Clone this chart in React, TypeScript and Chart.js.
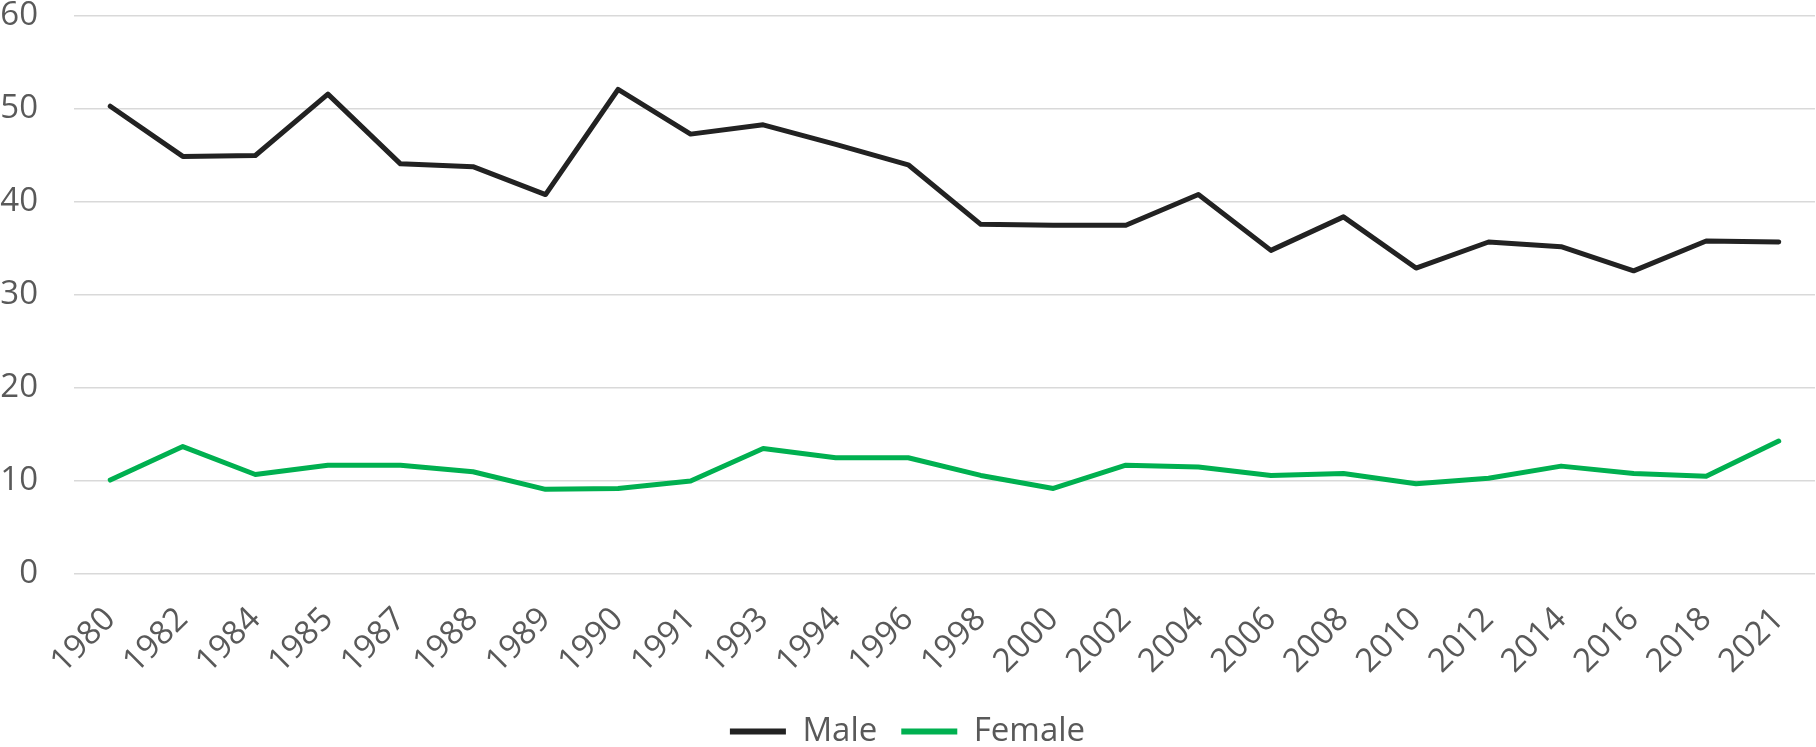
import React, { useEffect, useRef } from "react";
import { Chart, registerables } from "chart.js";

Chart.register(...registerables);

const years = ["1980","1982","1984","1985","1987","1988","1989","1990","1991","1993","1994","1996","1998","2000","2002","2004","2006","2008","2010","2012","2014","2016","2018","2021"];
const maleValues = [50.3,44.9,45.0,51.6,44.1,43.8,40.8,52.1,47.3,48.3,46.2,44.0,37.6,37.5,37.5,40.8,34.8,38.4,32.9,35.7,35.2,32.6,35.8,35.7];
const femaleValues = [10.1,13.7,10.7,11.7,11.7,11.0,9.1,9.2,10.0,13.5,12.5,12.5,10.6,9.2,11.7,11.5,10.6,10.8,9.7,10.3,11.6,10.8,10.5,14.3];
const yTicks = [0, 10, 20, 30, 40, 50, 60];

const FONT = "'Open Sans', sans-serif";
const TEXT = "#595959";
const SIZE = 33;

const zeroPad = (s: any) => {
  s.paddingLeft = 0;
  s.paddingRight = 0;
  s.paddingTop = 0;
  s.paddingBottom = 0;
};

export default function App() {
  const ref = useRef<HTMLCanvasElement | null>(null);
  useEffect(() => {
    if (!ref.current) return;
    const chart = new Chart(ref.current, {
      type: "line",
      data: {
        labels: years,
        datasets: [
          { label: "Male", data: maleValues, borderColor: "#222222", backgroundColor: "#222222", borderWidth: 5, pointRadius: 0, tension: 0, borderCapStyle: "round", borderJoinStyle: "round" },
          { label: "Female", data: femaleValues, borderColor: "#00B050", backgroundColor: "#00B050", borderWidth: 5, pointRadius: 0, tension: 0, borderCapStyle: "round", borderJoinStyle: "round" },
        ],
      },
      options: {
        animation: false,
        responsive: false,
        maintainAspectRatio: false,
        layout: { padding: { left: 0, right: 1, top: 16, bottom: -11 } },
        plugins: {
          tooltip: { enabled: false },
          legend: {
            position: "bottom",
            labels: {
              font: { family: FONT, size: SIZE },
              color: TEXT,
              boxWidth: 56,
              boxHeight: 6,
              padding: 24,
              generateLabels: (c: any) =>
                c.data.datasets.map((d: any, i: number) => ({
                  text: d.label,
                  fillStyle: d.borderColor,
                  strokeStyle: d.borderColor,
                  lineWidth: 0,
                  fontColor: TEXT,
                  datasetIndex: i,
                  hidden: false,
                })),
            },
          },
        },
        scales: {
          x: {
            offset: true,
            grid: { display: false, drawTicks: false },
            border: { display: false },
            ticks: { font: { family: FONT, size: SIZE }, color: TEXT, minRotation: 45, maxRotation: 45, padding: 26, autoSkip: false },
            afterFit: (s: any) => { s.height = 117; zeroPad(s); },
          },
          y: {
            min: 0,
            max: 60,
            afterBuildTicks: (axis: any) => { axis.ticks = yTicks.map((v) => ({ value: v })); },
            grid: { color: "#D9D9D9", lineWidth: 1.5, drawTicks: false },
            border: { display: false },
            ticks: { font: { family: FONT, size: SIZE }, color: TEXT, padding: 36 },
            afterFit: (s: any) => { s.width = 74; zeroPad(s); },
          },
        },
      },
    });
    return () => chart.destroy();
  }, []);
  return (
    <div style={{ position: "fixed", left: 0, top: 0, width: 1816, height: 747, background: "#fff" }}>
      <canvas ref={ref} width={1816} height={747} style={{ width: 1816, height: 747, display: "block" }} />
    </div>
  );
}
